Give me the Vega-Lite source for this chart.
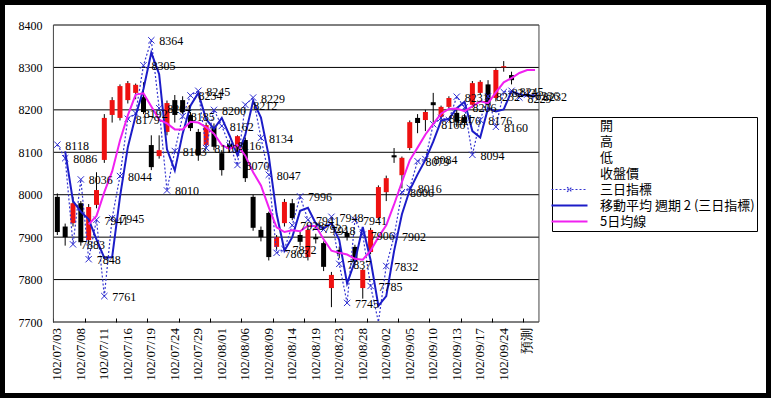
{
"$schema": "https://vega.github.io/schema/vega-lite/v6.json",
"width": 761, "height": 388,
"autosize": {"type": "none"},
"padding": 5,
"background": "#000000",
"config": {"view": {"fill": "#ffffff", "stroke": null}},
"data": {"values": [
{"i":0,"d":"102/07/03","o":7995,"h":8003,"l":7905,"c":7912,"t":8118},
{"i":1,"d":"102/07/04","o":7925,"h":7932,"l":7880,"c":7900,"t":8086,"m2":8102},
{"i":2,"d":"102/07/05","o":7933,"h":7995,"l":7925,"c":7980,"t":7883,"m2":7985},
{"i":3,"d":"102/07/08","o":7980,"h":7985,"l":7880,"c":7888,"t":8036,"m2":7960},
{"i":4,"d":"102/07/09","o":7893,"h":7978,"l":7885,"c":7971,"t":7848,"m2":7942,"m5":7930},
{"i":5,"d":"102/07/10","o":7976,"h":8053,"l":7968,"c":8011,"t":7941,"m2":7895,"m5":7950},
{"i":6,"d":"102/07/11","o":8082,"h":8190,"l":8075,"c":8181,"t":7761,"m2":7851,"m5":8006},
{"i":7,"d":"102/07/12","o":8188,"h":8230,"l":8170,"c":8223,"t":7945,"m2":7853,"m5":8055},
{"i":8,"d":"102/07/15","o":8181,"h":8260,"l":8175,"c":8256,"t":8044,"m2":7995,"m5":8128},
{"i":9,"d":"102/07/16","o":8223,"h":8268,"l":8215,"c":8263,"t":8179,"m2":8112,"m5":8187},
{"i":10,"d":"102/07/17","o":8240,"h":8262,"l":8225,"c":8259,"t":8192,"m2":8186,"m5":8236},
{"i":11,"d":"102/07/18","o":8230,"h":8265,"l":8190,"c":8195,"t":8305,"m2":8249,"m5":8239},
{"i":12,"d":"102/07/19","o":8117,"h":8140,"l":8058,"c":8065,"t":8364,"m2":8335,"m5":8208},
{"i":13,"d":"102/07/22","o":8091,"h":8140,"l":8085,"c":8105,"t":8204,"m2":8284,"m5":8177},
{"i":14,"d":"102/07/23","o":8148,"h":8222,"l":8140,"c":8216,"t":8010,"m2":8107,"m5":8168},
{"i":15,"d":"102/07/24","o":8223,"h":8235,"l":8170,"c":8188,"t":8103,"m2":8057,"m5":8154},
{"i":16,"d":"102/07/25","o":8223,"h":8232,"l":8190,"c":8195,"t":8185,"m2":8144,"m5":8154},
{"i":17,"d":"102/07/26","o":8188,"h":8195,"l":8150,"c":8157,"t":8234,"m2":8210,"m5":8172},
{"i":18,"d":"102/07/29","o":8148,"h":8155,"l":8080,"c":8093,"t":8245,"m2":8240,"m5":8170},
{"i":19,"d":"102/07/30","o":8117,"h":8170,"l":8110,"c":8164,"t":8110,"m2":8178,"m5":8159},
{"i":20,"d":"102/07/31","o":8160,"h":8168,"l":8105,"c":8113,"t":8200,"m2":8155,"m5":8144},
{"i":21,"d":"102/08/01","o":8098,"h":8105,"l":8045,"c":8058,"t":8162,"m2":8181,"m5":8117},
{"i":22,"d":"102/08/02","o":8120,"h":8128,"l":8100,"c":8110,"t":8116,"m2":8139,"m5":8108},
{"i":23,"d":"102/08/05","o":8112,"h":8140,"l":8100,"c":8138,"t":8070,"m2":8093,"m5":8117},
{"i":24,"d":"102/08/06","o":8129,"h":8135,"l":8030,"c":8039,"t":8212,"m2":8141,"m5":8092},
{"i":25,"d":"102/08/07","o":7995,"h":8000,"l":7915,"c":7922,"t":8229,"m2":8221,"m5":8053},
{"i":26,"d":"102/08/08","o":7917,"h":7925,"l":7890,"c":7900,"t":8134,"m2":8182,"m5":8022},
{"i":27,"d":"102/08/09","o":7957,"h":7960,"l":7845,"c":7853,"t":8047,"m2":8091,"m5":7970},
{"i":28,"d":"102/08/12","o":7877,"h":7905,"l":7870,"c":7900,"t":7863,"m2":7955,"m5":7923},
{"i":29,"d":"102/08/13","o":7933,"h":7990,"l":7925,"c":7983,"t":7872,"m2":7868,"m5":7912},
{"i":30,"d":"102/08/14","o":7980,"h":7990,"l":7940,"c":7945,"t":7928,"m2":7900,"m5":7916},
{"i":31,"d":"102/08/15","o":7905,"h":7915,"l":7880,"c":7889,"t":7996,"m2":7962,"m5":7914},
{"i":32,"d":"102/08/16","o":7853,"h":7925,"l":7845,"c":7917,"t":7941,"m2":7969,"m5":7927},
{"i":33,"d":"102/08/19","o":7900,"h":7908,"l":7885,"c":7895,"t":7922,"m2":7932,"m5":7926},
{"i":34,"d":"102/08/20","o":7886,"h":7890,"l":7820,"c":7830,"t":7918,"m2":7920,"m5":7895},
{"i":35,"d":"102/08/22","o":7780,"h":7818,"l":7735,"c":7811,"t":7948,"m2":7933,"m5":7868},
{"i":36,"d":"102/08/23","o":7870,"h":7878,"l":7850,"c":7860,"t":7837,"m2":7893,"m5":7863},
{"i":37,"d":"102/08/26","o":7910,"h":7915,"l":7892,"c":7900,"t":7745,"m2":7791,"m5":7859},
{"i":38,"d":"102/08/27","o":7877,"h":7882,"l":7838,"c":7842,"t":7941,"m2":7843,"m5":7849},
{"i":39,"d":"102/08/28","o":7780,"h":7826,"l":7755,"c":7823,"t":7906,"m2":7924,"m5":7847},
{"i":40,"d":"102/08/29","o":7865,"h":7922,"l":7860,"c":7917,"t":7785,"m2":7846,"m5":7868},
{"i":41,"d":"102/08/30","o":7945,"h":8022,"l":7940,"c":8018,"t":7700,"m2":7738,"m5":7900},
{"i":42,"d":"102/09/02","o":8006,"h":8045,"l":7985,"c":8039,"t":7832,"m2":7761,"m5":7928},
{"i":43,"d":"102/09/03","o":8093,"h":8110,"l":8075,"c":8088,"t":7902,"m2":7867,"m5":7977},
{"i":44,"d":"102/09/04","o":8046,"h":8090,"l":8015,"c":8087,"t":8006,"m2":7954,"m5":8030},
{"i":45,"d":"102/09/05","o":8110,"h":8175,"l":8105,"c":8171,"t":8016,"m2":8011,"m5":8081},
{"i":46,"d":"102/09/06","o":8181,"h":8190,"l":8145,"c":8169,"t":8079,"m2":8048,"m5":8111},
{"i":47,"d":"102/09/09","o":8176,"h":8200,"l":8150,"c":8195,"t":8084,"m2":8082,"m5":8142},
{"i":48,"d":"102/09/10","o":8218,"h":8240,"l":8170,"c":8211,"t":8166,"m2":8125,"m5":8167},
{"i":49,"d":"102/09/11","o":8183,"h":8210,"l":8175,"c":8207,"t":8181,"m2":8174,"m5":8191},
{"i":50,"d":"102/09/12","o":8207,"h":8232,"l":8200,"c":8228,"t":8176,"m2":8179,"m5":8202},
{"i":51,"d":"102/09/13","o":8193,"h":8200,"l":8160,"c":8172,"t":8231,"m2":8204,"m5":8203},
{"i":52,"d":"102/09/14","o":8183,"h":8190,"l":8160,"c":8169,"t":8206,"m2":8219,"m5":8197},
{"i":53,"d":"102/09/16","o":8212,"h":8268,"l":8205,"c":8263,"t":8094,"m2":8150,"m5":8208},
{"i":54,"d":"102/09/17","o":8240,"h":8270,"l":8235,"c":8266,"t":8176,"m2":8135,"m5":8220},
{"i":55,"d":"102/09/18","o":8260,"h":8270,"l":8205,"c":8212,"t":8232,"m2":8204,"m5":8216},
{"i":56,"d":"102/09/23","o":8228,"h":8298,"l":8220,"c":8294,"t":8160,"m2":8196,"m5":8241},
{"i":57,"d":"102/09/24","o":8300,"h":8315,"l":8290,"c":8303,"t":8242,"m2":8201,"m5":8265},
{"i":58,"d":"102/09/25","o":8282,"h":8290,"l":8260,"c":8270,"t":8245,"m2":8244,"m5":8275},
{"i":59,"d":"102/09/26","t":8229,"m2":8237,"m5":8287},
{"i":60,"d":"預測","t":8236,"m2":8233,"m5":8294},
{"i":61,"d":"","t":8232,"m2":8234,"m5":8294}
]},
"layer": [
{"data": {"values": [{"g":7700},{"g":7800},{"g":7900},{"g":8000},{"g":8100},{"g":8200},{"g":8300},{"g":8400}]},
 "mark": {"type": "rule", "color": "#000000", "strokeWidth": 1},
 "encoding": {
  "x": {"datum": -0.5, "type": "quantitative", "scale": {"domain": [-6.0447, 89.854], "nice": false, "zero": false}},
  "x2": {"datum": 61.5},
  "y": {"field": "g", "type": "quantitative", "scale": {"domain": [7532.66, 8447.14], "nice": false, "zero": false},
   "axis": {"orient": "left", "offset": -44, "values": [7700,7800,7900,8000,8100,8200,8300,8400], "format": "d", "ticks": false, "domain": false, "grid": false, "labelPadding": 7, "labelFont": "Liberation Serif", "labelFontSize": 12, "labelColor": "#000000", "title": null}}
 }},
{"data": {"values": [{"b": -0.5}, {"b": 61.5}]},
 "mark": {"type": "rule", "color": "#444444", "strokeWidth": 1},
 "encoding": {
  "x": {"field": "b", "type": "quantitative", "scale": {"domain": [-6.0447, 89.854], "nice": false, "zero": false},
   "axis": {"orient": "bottom", "offset": -71, "title": null, "domain": false, "grid": false, "labels": false,
    "values": [0,1,2,3,4,5,6,7,8,9,10,11,12,13,14,15,16,17,18,19,20,21,22,23,24,25,26,27,28,29,30,31,32,33,34,35,36,37,38,39,40,41,42,43,44,45,46,47,48,49,50,51,52,53,54,55,56,57,58,59,60,61],
    "tickSize": -4, "tickColor": "#000000", "tickOffset": -3.97}},
  "y": {"datum": 7700, "type": "quantitative"},
  "y2": {"datum": 8400}
 }},
{"transform": [{"filter": "datum.i % 3 == 0 && datum.i <= 60"}],
 "mark": {"type": "text", "angle": 270, "align": "right", "baseline": "middle", "dx": -6, "font": "Liberation Serif", "fontSize": 13, "color": "#000000"},
 "encoding": {
  "x": {"field": "i", "type": "quantitative"},
  "y": {"datum": 7700, "type": "quantitative"},
  "text": {"field": "d", "type": "nominal"}
 }},
{"mark": {"type": "rule", "color": "#000000", "strokeWidth": 1},
 "encoding": {
  "x": {"field": "i", "type": "quantitative"},
  "y": {"field": "l", "type": "quantitative"},
  "y2": {"field": "h"}
 }},
{"mark": {"type": "bar", "size": 5},
 "encoding": {
  "x": {"field": "i", "type": "quantitative"},
  "y": {"field": "o", "type": "quantitative"},
  "y2": {"field": "c"},
  "color": {"condition": {"test": "datum.c > datum.o", "value": "#ee1111"}, "value": "#000000"}
 }},
{"mark": {"type": "line", "strokeDash": [2, 2], "strokeWidth": 1.2},
 "encoding": {
  "x": {"field": "i", "type": "quantitative"},
  "y": {"field": "t", "type": "quantitative"},
  "color": {"datum": "三日指標", "scale": {"domain": ["開","高","低","收盤價","三日指標","移動平均 週期 2 (三日指標)","5日均線"], "range": ["transparent","transparent","transparent","transparent","#3535d0","#1c1cc8","#f020f0"]},
   "legend": {"orient": "none", "legendX": 547, "legendY": 112, "title": null, "fillColor": "#ffffff", "strokeColor": "#000000", "padding": 2,
    "labelFont": "Noto Sans CJK TC", "labelFontSize": 13, "labelColor": "#000000", "labelLimit": 300, "symbolType": "M-6,0H6", "symbolSize": 36, "symbolStrokeWidth": 2,
    "symbolOffset": 9, "labelOffset": 24, "rowPadding": 2, "symbolFillColor": "transparent",
    "encode": {"symbols": {"update": {
      "shape": {"signal": "datum.value === '三日指標' ? 'M-6,0H6M-0.8,-0.8L0.8,0.8M-0.8,0.8L0.8,-0.8' : 'M-6,0H6'"},
      "strokeDash": {"signal": "datum.value === '三日指標' ? [2,2] : [1,0]"},
      "strokeWidth": {"signal": "datum.value === '三日指標' ? 1.2 : 2"},
      "fill": {"value": "transparent"}}}}}}
 }},
{"transform": [{"filter": "datum.i != 41"}],
 "mark": {"type": "point", "shape": "M-1,-1L1,1M-1,1L1,-1", "filled": false, "stroke": "#2b2bd0", "strokeWidth": 1, "size": 40, "opacity": 1},
 "encoding": {
  "x": {"field": "i", "type": "quantitative"},
  "y": {"field": "t", "type": "quantitative"}
 }},
{"mark": {"type": "line", "strokeWidth": 2},
 "encoding": {
  "x": {"field": "i", "type": "quantitative"},
  "y": {"field": "m2", "type": "quantitative"},
  "color": {"datum": "移動平均 週期 2 (三日指標)"}
 }},
{"mark": {"type": "line", "strokeWidth": 2},
 "encoding": {
  "x": {"field": "i", "type": "quantitative"},
  "y": {"field": "m5", "type": "quantitative"},
  "color": {"datum": "5日均線"}
 }},
{"transform": [{"filter": "datum.i != 41"}],
 "mark": {"type": "text", "align": "left", "baseline": "middle", "dx": 8, "dy": 1, "font": "Liberation Serif", "fontSize": 12, "color": "#000000"},
 "encoding": {
  "x": {"field": "i", "type": "quantitative"},
  "y": {"field": "t", "type": "quantitative"},
  "text": {"field": "t", "type": "quantitative", "format": "d"}
 }}
]
}
